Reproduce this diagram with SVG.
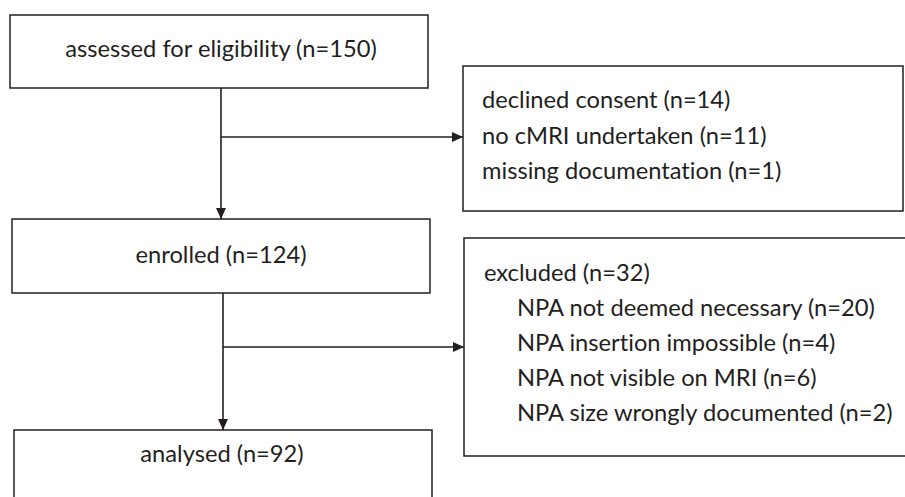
<svg xmlns="http://www.w3.org/2000/svg" width="905" height="497" viewBox="0 0 905 497">
<style>
.box{fill:#fff;stroke:#231f20;stroke-width:1.5}
.t{font-family:Lato,"Open Sans","Liberation Sans",sans-serif;font-size:23.7px;fill:#231f20;font-variant-ligatures:none}
.c{text-anchor:middle}
.ln{stroke:#231f20;stroke-width:1.6;fill:none}
</style>
<defs>
<marker id="ah" markerWidth="11" markerHeight="10" refX="11" refY="5" orient="auto" markerUnits="userSpaceOnUse">
<path d="M0,0 L11,5 L0,10 Z" fill="#231f20"/>
</marker>
</defs>
<rect width="905" height="497" fill="#fff"/>
<g id="connectors">
<line class="ln" x1="221" y1="88" x2="221" y2="219" marker-end="url(#ah)"/>
<line class="ln" x1="221" y1="137" x2="463" y2="137" marker-end="url(#ah)"/>
<line class="ln" x1="223" y1="293" x2="223" y2="430" marker-end="url(#ah)"/>
<line class="ln" x1="223" y1="347" x2="464" y2="347" marker-end="url(#ah)"/>
</g>
<g id="assessed">
<rect class="box" x="10" y="15" width="418" height="73"/>
<text class="t c" x="221" y="57">assessed for eligibility (n=150)</text>
</g>
<g id="declined">
<rect class="box" x="463" y="66" width="440" height="145"/>
<text class="t" x="482" y="108">declined consent (n=14)</text>
<text class="t" x="482" y="144">no cMRI undertaken (n=11)</text>
<text class="t" x="482" y="179">missing documentation (n=1)</text>
</g>
<g id="enrolled">
<rect class="box" x="12" y="219" width="418" height="74"/>
<text class="t c" x="221" y="263">enrolled (n=124)</text>
</g>
<g id="excluded">
<rect class="box" x="464" y="238" width="460" height="218"/>
<text class="t" x="484" y="281">excluded (n=32)</text>
<text class="t" x="517" y="316">NPA not deemed necessary (n=20)</text>
<text class="t" x="517" y="351">NPA insertion impossible (n=4)</text>
<text class="t" x="517" y="386">NPA not visible on MRI (n=6)</text>
<text class="t" x="517" y="421">NPA size wrongly documented (n=2)</text>
</g>
<g id="analysed">
<rect class="box" x="14" y="430" width="418" height="90"/>
<text class="t c" x="222" y="462">analysed (n=92)</text>
</g>
</svg>
